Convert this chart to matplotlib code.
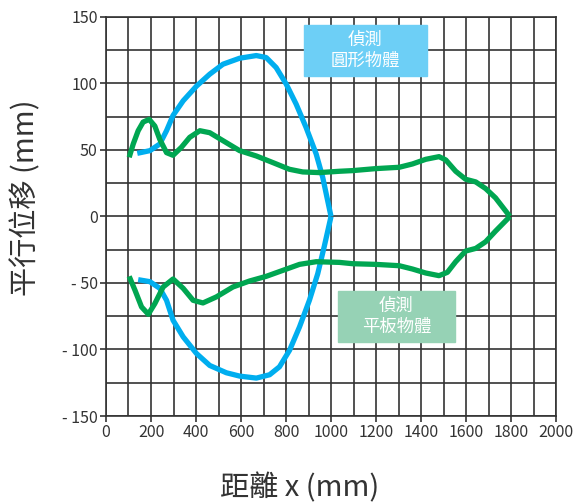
import numpy as np
import matplotlib
matplotlib.use('Agg')
import matplotlib.pyplot as plt
from matplotlib.patches import Rectangle

plt.rcParams['font.family'] = ['Noto Sans CJK TC', 'DejaVu Sans']

# circular object (blue), upper and lower branches
round_up_x = [139, 195, 239, 269, 298, 343, 402, 461, 520, 594, 668, 712, 756, 801,
              845, 889, 934, 963, 1000]
round_up_y = [47.5, 49.5, 54.5, 64.5, 76, 87, 98, 107, 114.5, 119, 121, 119.5, 112, 99.5,
              84.5, 67, 47, 29.5, 0]
round_lo_x = [143, 195, 239, 269, 298, 343, 402, 461, 535, 594, 668, 727, 771, 816,
              860, 904, 941, 970, 1000]
round_lo_y = [-47.5, -49, -54, -63, -78, -90.5, -103, -112, -117.5, -120, -121.5, -119, -113, -100.5,
              -83, -63, -43, -22.5, 0]

# flat object (green), upper and lower branches
flat_up_x = [103, 121, 143, 165, 192, 217, 239, 269, 298, 335, 372, 417, 461, 520, 594,
             668, 742, 815, 874, 948, 1037, 1096, 1199, 1303, 1362, 1421, 1480, 1510,
             1554, 1598, 1643, 1687, 1731, 1795]
flat_up_y = [44.5, 54.5, 64.5, 71, 73, 68, 58, 48, 46, 52, 59.5, 64.5, 63, 57, 49.5,
             45.5, 40.5, 35.5, 33.5, 33, 34, 34.5, 36, 37, 39.5, 43, 45, 42.5,
             34, 28, 26, 21, 14, 0]
flat_lo_x = [103, 129, 158, 188, 217, 254, 298, 343, 387, 431, 490, 564, 638, 712,
             786, 860, 934, 1037, 1096, 1199, 1303, 1362, 1421, 1480, 1517,
             1554, 1598, 1643, 1687, 1731, 1795]
flat_lo_y = [-45, -55.5, -68, -73.5, -65.5, -53, -47, -54, -63, -65, -60.5, -53, -48.5, -45,
             -40.5, -36, -34, -34.5, -35.5, -36, -37, -39.5, -42.5, -44.5, -42,
             -34, -26, -24, -19, -11, 0]

blue = '#00AEEF'
green = '#00A651'

fig = plt.figure(figsize=(5.77, 5.04), dpi=100)
ax = fig.add_axes([0.1837, 0.1746, 0.78, 0.7917])

line_kw = dict(lw=3.8, solid_capstyle='butt', solid_joinstyle='round')
ax.plot(round_up_x, round_up_y, color=blue, zorder=3, **line_kw)
ax.plot(round_lo_x, round_lo_y, color=blue, zorder=3, **line_kw)
ax.plot(flat_up_x, flat_up_y, color=green, zorder=4, **line_kw)
ax.plot(flat_lo_x, flat_lo_y, color=green, zorder=4, **line_kw)

ax.set_xlim(0, 2000)
ax.set_ylim(-150, 150)
ax.set_xticks(range(0, 2001, 200))
ax.set_xticks(range(0, 2001, 100), minor=True)
ax.set_yticks([150, 100, 50, 0, -50, -100, -150])
ax.set_yticklabels(['150', '100', '50', '0', '- 50', '- 100', '- 150'])
ax.set_yticks(range(-150, 151, 25), minor=True)
ax.grid(True, which='both', color='#333333', lw=1.2, zorder=1)
ax.set_axisbelow(True)
for s in ax.spines.values():
    s.set_color('#333333')
    s.set_linewidth(1.2)
ax.tick_params(which='major', length=4, width=1.2, color='#333333', labelsize=11.5, labelcolor='#333333', pad=2)
ax.tick_params(which='minor', length=0)

# label boxes
ax.add_patch(Rectangle((880, 106), 547, 38, color='#6DCFF6', zorder=5))
ax.text(1153, 125, '偵測\n圓形物體', color='white', fontsize=12.5, ha='center', va='center',
        linespacing=1.25, zorder=6)
ax.add_patch(Rectangle((1031, -94), 520, 38, color='#96D2B5', zorder=5))
ax.text(1291, -75, '偵測\n平板物體', color='white', fontsize=12.5, ha='center', va='center',
        linespacing=1.25, zorder=6)

fig.text(0.52, 0.032, '距離 x (mm)', fontsize=21, color='#333333', ha='center', va='center')
fig.text(0.045, 0.607, '平行位移 (mm)', fontsize=21, color='#333333', ha='center', va='center', rotation=90)

fig.savefig('out.png', dpi=100)
